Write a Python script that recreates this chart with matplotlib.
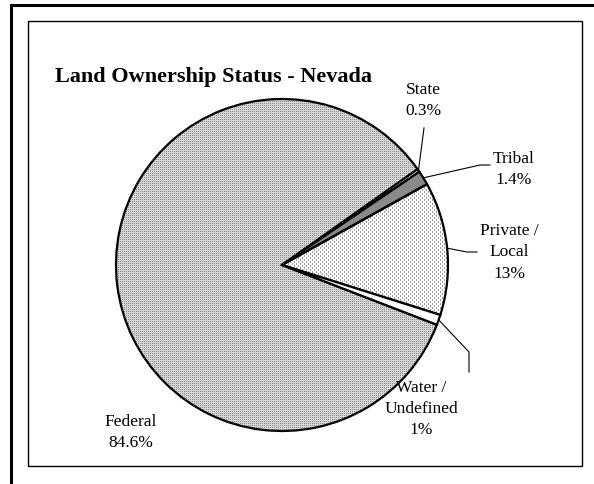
import numpy as np
import matplotlib
matplotlib.use('Agg')
import matplotlib.pyplot as plt
from matplotlib.patches import Rectangle

plt.rcParams['font.family'] = ['Liberation Serif', 'DejaVu Serif']

# land ownership shares (percent)
categories = ['Federal', 'State', 'Tribal', 'Private /\nLocal', 'Water /\nUndefined']
shares = [84.6, 0.3, 1.4, 13, 1]

W, H = 594, 485
fig = plt.figure(figsize=(W / 100, H / 100), dpi=100)
ax = fig.add_axes([0, 0, 1, 1])

cx, cy, r = 282, H - 266, 166
wedges, _ = ax.pie(shares, center=(cx, cy), radius=r, startangle=-21.1,
                   counterclock=False,
                   colors=['none', 'white', '#8a8a8a', 'none', 'white'],
                   wedgeprops=dict(edgecolor='black', linewidth=1.6))

# dotted fill textures, one cell per pixel
rows, cols = np.mgrid[0:H, 0:W]
fed_tex = np.full((H, W), 214.0)
fed_tex[(rows % 2 == 0) & (cols % 2 == 0)] = 140
priv_tex = np.full((H, W), 255.0)
priv_tex[((cols % 4 == 0) & ((rows // 2) % 2 == 0)) |
         ((cols % 4 == 2) & ((rows // 2) % 2 == 1))] = 150

for tex, w in [(fed_tex, wedges[0]), (priv_tex, wedges[3])]:
    im = ax.imshow(tex, cmap='gray', vmin=0, vmax=255, extent=(0, W, 0, H),
                   origin='upper', interpolation='nearest', zorder=0)
    im.set_clip_path(w)

# label centres and leader elbows (pixels from top-left)
label_pos = [(131, 432.5), (423, 100.5), (514, 169.5), (509, 252.5), (421, 409)]
leaders = [[], [(424, 129)], [(480, 166), (490, 166)],
           [(467, 253), (477, 253)], [(469, 353), (469, 373)]]

for w, name, v, (lx, ly), pts in zip(wedges, categories, shares, label_pos, leaders):
    ax.text(lx, H - ly, f'{name}\n{v:g}%', ha='center', va='center',
            fontsize=12.5, linespacing=1.43)
    if pts:
        mid = np.deg2rad((w.theta1 + w.theta2) / 2)
        xs = [cx + r * np.cos(mid)] + [p[0] for p in pts]
        ys = [cy + r * np.sin(mid)] + [H - p[1] for p in pts]
        ax.plot(xs, ys, color='black', lw=0.8, zorder=3)

ax.text(55, H - 82, 'Land Ownership Status - Nevada', ha='left', va='baseline',
        fontsize=16, fontweight='bold')

# frame lines
ax.plot([10.5, 10.5, W], [0, H - 6, H - 6], color='black', lw=2.2,
        solid_joinstyle='miter')
ax.add_patch(Rectangle((27.5, H - 466.5), 582 - 27.5, 466.5 - 22, fill=False,
                       edgecolor='black', lw=1.0))

ax.set_xlim(0, W)
ax.set_ylim(0, H)
ax.set_aspect('equal')
ax.axis('off')

fig.savefig('out.png', dpi=100)
